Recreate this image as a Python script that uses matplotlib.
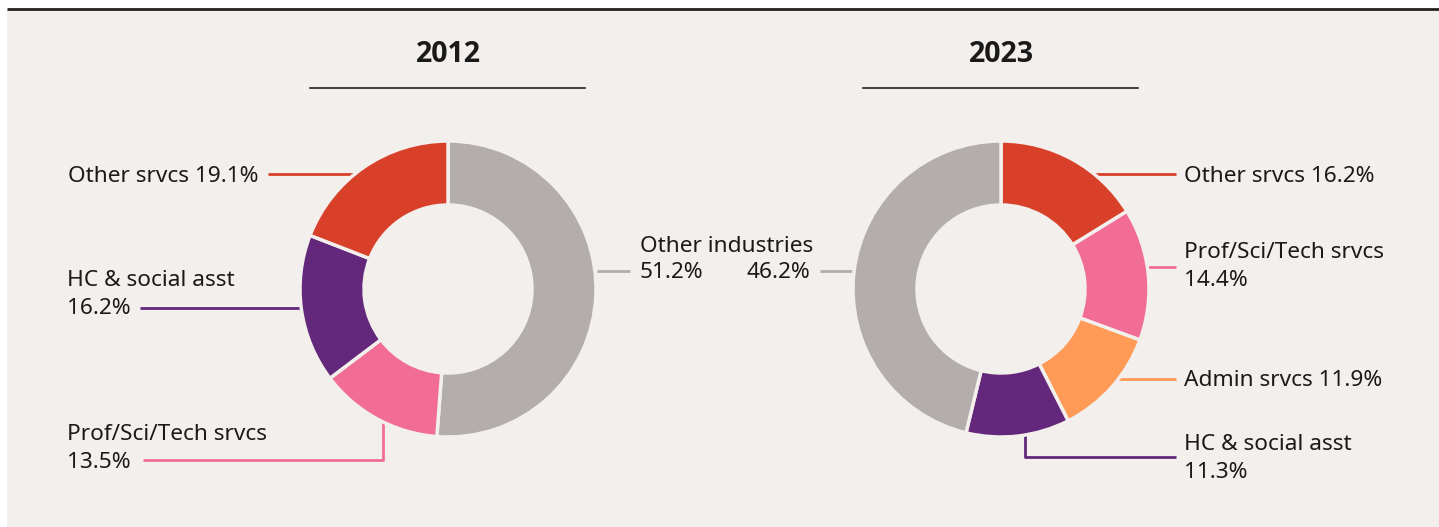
import numpy as np
import matplotlib.pyplot as plt
from matplotlib.patches import Rectangle

plt.rcParams['font.family'] = ['Noto Sans', 'DejaVu Sans']

# data
labels_2012 = ["Other industries", "Prof/Sci/Tech srvcs", "HC & social asst", "Other srvcs"]
values_2012 = [51.2, 13.5, 16.2, 19.1]
colors_2012 = ["#b4adad", "#f26d96", "#63287b", "#d9402a"]

labels_2023 = ["Other srvcs", "Prof/Sci/Tech srvcs", "Admin srvcs", "HC & social asst", "Other industries"]
values_2023 = [16.2, 14.4, 11.9, 11.3, 46.2]
colors_2023 = ["#d9402a", "#f26d96", "#ff9a57", "#63287b", "#b4adad"]

W, H = 1439, 527
BG = "#f3efec"
TXT = "#1a1a1a"

fig = plt.figure(figsize=(W / 100, H / 100), dpi=100)
ax = fig.add_axes([0, 0, 1, 1])


def Y(py):
    # pixel row (from top) -> data y
    return H - py


R, RIN = 148, 84
c1 = (448, Y(289))
c2 = (1001, Y(289))

for c, vals, cols in [(c1, values_2012, colors_2012), (c2, values_2023, colors_2023)]:
    ax.pie(vals, colors=cols, center=c, radius=R, startangle=90, counterclock=False,
           wedgeprops=dict(width=R - RIN, edgecolor=BG, linewidth=2.5), frame=True)

ax.set_xlim(0, W)
ax.set_ylim(0, H)
ax.set_aspect("equal")
ax.axis("off")

ax.add_patch(Rectangle((7, 0), W - 7, Y(9), facecolor=BG, edgecolor="none", zorder=0))
ax.plot([7, W], [Y(9), Y(9)], color="#222222", lw=2, zorder=1, solid_capstyle="butt")

# titles
for cx, year, x0, x1 in [(448, "2012", 310, 585), (1001, "2023", 863, 1138)]:
    ax.text(cx, Y(54), year, ha="center", va="center", fontsize=20.5, fontweight="bold",
            family=["Open Sans", "DejaVu Sans"], color=TXT)
    ax.plot([x0, x1], [Y(88), Y(88)], color="#222222", lw=1.2)

fs = 16.3


def label(x, py, s, ha="left"):
    ax.text(x, Y(py + 2), s, ha=ha, va="center", fontsize=fs, color=TXT)


def edge_x(c, py, side):
    dy = Y(py) - c[1]
    dx = np.sqrt(R ** 2 - dy ** 2)
    return c[0] + side * dx


# 2012 labels
ln = dict(lw=2, solid_capstyle="butt")
label(258, 174, f"{labels_2012[3]} {values_2012[3]}%", ha="right")
ax.plot([268, edge_x(c1, 174, -1) + 6], [Y(174), Y(174)], color=colors_2012[3], **ln, zorder=0.5)

label(67, 279, labels_2012[2])
label(67, 306, f"{values_2012[2]}%")
ax.plot([140, edge_x(c1, 308, -1) + 4], [Y(308), Y(308)], color=colors_2012[2], **ln, zorder=0.5)

label(67, 432, labels_2012[1])
label(67, 460, f"{values_2012[1]}%")
yb = c1[1] - np.sqrt(R ** 2 - (383 - c1[0]) ** 2)
ax.plot([143, 383, 383], [Y(460), Y(460), yb + 4], color=colors_2012[1], **ln, zorder=0.5)

label(640, 244, labels_2012[0])
label(640, 271, f"{values_2012[0]}%")
ax.plot([c1[0] + R + 1, 630], [Y(271), Y(271)], color=colors_2012[0], **ln, zorder=0.5)

# 2023 labels
label(810, 271, f"{values_2023[4]}%", ha="right")
ax.plot([820, c2[0] - R - 1], [Y(271), Y(271)], color=colors_2023[4], **ln, zorder=0.5)

label(1184, 174, f"{labels_2023[0]} {values_2023[0]}%")
ax.plot([1090, 1176], [Y(174), Y(174)], color=colors_2023[0], **ln, zorder=0.5)

label(1184, 251, labels_2023[1])
label(1184, 279, f"{values_2023[1]}%")
ax.plot([1130, 1176], [Y(267), Y(267)], color=colors_2023[1], **ln, zorder=0.5)

label(1184, 379, f"{labels_2023[2]} {values_2023[2]}%")
ax.plot([1110, 1176], [Y(379), Y(379)], color=colors_2023[2], **ln, zorder=0.5)

label(1184, 443, labels_2023[3])
label(1184, 470, f"{values_2023[3]}%")
ax.plot([1025, 1025, 1176], [Y(425), Y(457), Y(457)], color=colors_2023[3], **ln, zorder=0.5)

fig.savefig("out.png", dpi=100, facecolor="white")
